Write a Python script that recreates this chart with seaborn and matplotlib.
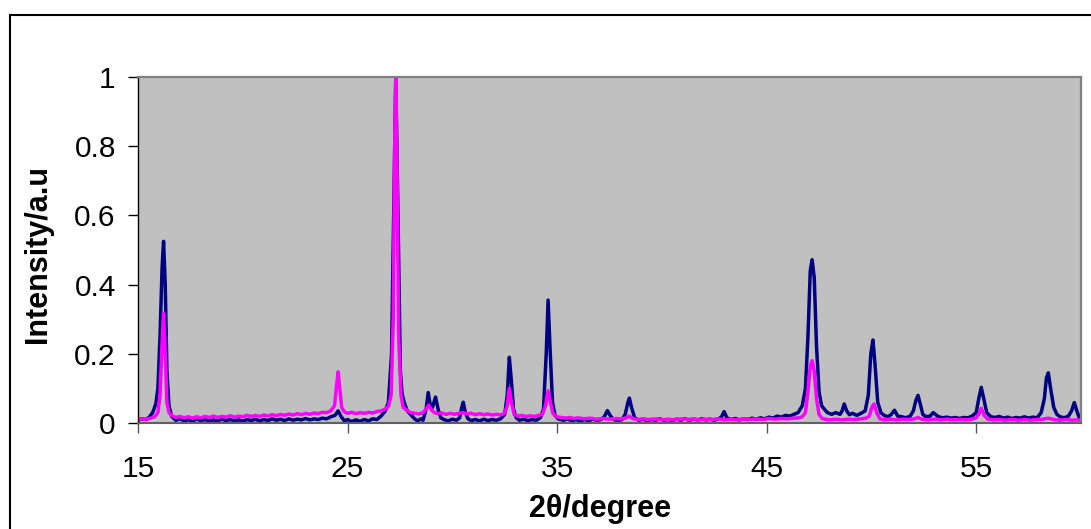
import matplotlib
matplotlib.use("Agg")
import matplotlib.pyplot as plt
from matplotlib.patches import Rectangle
import seaborn as sns

# XRD pattern, values (normalised intensity)

two_theta_navy = [
    15.0, 15.2, 15.4, 15.55, 15.7, 15.85, 15.95, 16.05, 16.15, 16.22, 16.3, 16.38, 16.48, 16.6, 16.8,
    17.0, 17.2, 17.4, 17.6, 17.8, 18.0, 18.2, 18.4, 18.6, 18.8, 19.0, 19.2, 19.4, 19.6, 19.8,
    20.0, 20.2, 20.4, 20.6, 20.8, 21.0, 21.2, 21.4, 21.6, 21.8, 22.0, 22.2, 22.4, 22.6, 22.8,
    23.0, 23.2, 23.4, 23.6, 23.8, 24.0, 24.2, 24.4, 24.55, 24.7, 24.85, 25.0, 25.2, 25.4, 25.6,
    25.8, 26.0, 26.2, 26.4, 26.6, 26.8, 26.95, 27.1, 27.2, 27.3, 27.42, 27.52, 27.6, 27.7, 27.85,
    28.0, 28.2, 28.35, 28.5, 28.6, 28.75, 28.85, 28.95, 29.05, 29.2, 29.32, 29.45, 29.6, 29.8,
    30.0, 30.2, 30.35, 30.45, 30.52, 30.62, 30.75, 30.9, 31.1, 31.3, 31.5, 31.7, 31.9, 32.1, 32.3,
    32.5, 32.62, 32.72, 32.82, 32.92, 33.05, 33.2, 33.4, 33.6, 33.8, 34.0, 34.2, 34.35, 34.48,
    34.57, 34.66, 34.78, 34.9, 35.05, 35.3, 35.5, 35.7, 35.9, 36.1, 36.3, 36.5, 36.7, 36.9, 37.1,
    37.25, 37.4, 37.55, 37.7, 37.9, 38.1, 38.25, 38.38, 38.45, 38.55, 38.7, 38.9, 39.1, 39.3, 39.5,
    39.7, 39.9, 40.1, 40.3, 40.5, 40.7, 40.9, 41.1, 41.3, 41.5, 41.7, 41.9, 42.1, 42.3, 42.5, 42.7,
    42.85, 42.97, 43.1, 43.3, 43.5, 43.7, 43.9, 44.1, 44.3, 44.5, 44.7, 44.9, 45.1, 45.3, 45.5,
    45.7, 45.9, 46.1, 46.3, 46.5, 46.7, 46.85, 46.97, 47.08, 47.17, 47.27, 47.38, 47.5, 47.62,
    47.75, 47.9, 48.1, 48.3, 48.5, 48.6, 48.7, 48.82, 48.95, 49.1, 49.3, 49.5, 49.7, 49.85, 49.97,
    50.07, 50.17, 50.3, 50.45, 50.6, 50.8, 50.95, 51.1, 51.25, 51.45, 51.65, 51.85, 52.0, 52.12,
    52.22, 52.33, 52.45, 52.6, 52.8, 52.95, 53.05, 53.2, 53.4, 53.6, 53.8, 54.0, 54.2, 54.4, 54.6,
    54.8, 55.0, 55.12, 55.24, 55.36, 55.5, 55.7, 55.9, 56.1, 56.3, 56.5, 56.7, 56.9, 57.1, 57.3,
    57.5, 57.7, 57.9, 58.1, 58.25, 58.35, 58.44, 58.55, 58.7, 58.85, 59.0, 59.2, 59.4, 59.55,
    59.68, 59.8, 59.92, 60.0,
]
intensity_navy = [
    0.008, 0.012, 0.010, 0.018, 0.030, 0.055, 0.100, 0.250, 0.450, 0.525, 0.400, 0.150, 0.050, 0.020, 0.008,
    0.012, 0.006, 0.010, 0.005, 0.011, 0.007, 0.010, 0.005, 0.009, 0.006, 0.011, 0.007, 0.010, 0.006, 0.009,
    0.005, 0.010, 0.007, 0.011, 0.006, 0.010, 0.007, 0.012, 0.008, 0.011, 0.007, 0.012, 0.008, 0.011, 0.009,
    0.013, 0.009, 0.012, 0.010, 0.014, 0.012, 0.018, 0.022, 0.035, 0.018, 0.006, 0.010, 0.004, 0.009, 0.005,
    0.010, 0.006, 0.012, 0.010, 0.020, 0.035, 0.060, 0.200, 0.600, 1.000, 0.550, 0.150, 0.085, 0.060, 0.035,
    0.025, 0.012, 0.006, 0.012, 0.008, 0.040, 0.088, 0.050, 0.045, 0.075, 0.040, 0.015, 0.010, 0.006,
    0.011, 0.008, 0.015, 0.045, 0.060, 0.030, 0.012, 0.007, 0.010, 0.006, 0.011, 0.007, 0.010, 0.008, 0.012,
    0.025, 0.080, 0.190, 0.120, 0.040, 0.015, 0.008, 0.011, 0.007, 0.010, 0.008, 0.015, 0.040, 0.200,
    0.355, 0.220, 0.060, 0.022, 0.012, 0.008, 0.011, 0.007, 0.010, 0.006, 0.010, 0.007, 0.011, 0.008, 0.010,
    0.018, 0.036, 0.020, 0.010, 0.007, 0.010, 0.025, 0.060, 0.072, 0.045, 0.015, 0.008, 0.011, 0.007, 0.010,
    0.008, 0.012, 0.008, 0.010, 0.007, 0.011, 0.008, 0.012, 0.008, 0.011, 0.009, 0.012, 0.009, 0.011, 0.008, 0.012,
    0.018, 0.033, 0.015, 0.010, 0.013, 0.009, 0.012, 0.010, 0.014, 0.011, 0.015, 0.012, 0.017, 0.014, 0.020,
    0.017, 0.022, 0.020, 0.025, 0.030, 0.050, 0.100, 0.250, 0.440, 0.472, 0.420, 0.220, 0.090, 0.050,
    0.040, 0.030, 0.025, 0.030, 0.025, 0.035, 0.055, 0.035, 0.024, 0.028, 0.022, 0.028, 0.035, 0.080, 0.200,
    0.240, 0.170, 0.060, 0.030, 0.022, 0.018, 0.025, 0.037, 0.020, 0.018, 0.015, 0.020, 0.035, 0.065,
    0.080, 0.055, 0.025, 0.018, 0.020, 0.030, 0.025, 0.018, 0.015, 0.017, 0.014, 0.016, 0.013, 0.016, 0.015,
    0.020, 0.030, 0.070, 0.103, 0.070, 0.030, 0.018, 0.016, 0.019, 0.014, 0.017, 0.013, 0.016, 0.014, 0.018,
    0.014, 0.017, 0.015, 0.030, 0.070, 0.130, 0.145, 0.100, 0.045, 0.025, 0.018, 0.015, 0.020, 0.035,
    0.059, 0.035, 0.015, 0.012,
]

two_theta_pink = [
    15.0, 15.2, 15.4, 15.6, 15.8, 15.95, 16.05, 16.15, 16.22, 16.3, 16.38, 16.48, 16.6, 16.8,
    17.0, 17.2, 17.4, 17.6, 17.8, 18.0, 18.2, 18.4, 18.6, 18.8, 19.0, 19.2, 19.4, 19.6, 19.8,
    20.0, 20.2, 20.4, 20.6, 20.8, 21.0, 21.2, 21.4, 21.6, 21.8, 22.0, 22.2, 22.4, 22.6, 22.8,
    23.0, 23.2, 23.4, 23.6, 23.8, 24.0, 24.2, 24.38, 24.48, 24.55, 24.63, 24.72, 24.85, 25.0,
    25.2, 25.4, 25.6, 25.8, 26.0, 26.2, 26.4, 26.6, 26.8, 26.95, 27.08, 27.18, 27.25, 27.3, 27.36,
    27.44, 27.55, 27.65, 27.8, 28.0, 28.2, 28.4, 28.6, 28.75, 28.88, 29.0, 29.15, 29.3, 29.5, 29.7,
    29.9, 30.1, 30.3, 30.5, 30.7, 30.9, 31.1, 31.3, 31.5, 31.7, 31.9, 32.1, 32.3, 32.5, 32.62,
    32.72, 32.82, 32.95, 33.1, 33.3, 33.5, 33.7, 33.9, 34.1, 34.3, 34.45, 34.57, 34.68, 34.8, 34.95,
    35.2, 35.4, 35.6, 35.8, 36.0, 36.3, 36.6, 36.9, 37.2, 37.5, 37.8, 38.1, 38.3, 38.45, 38.6,
    38.8, 39.1, 39.4, 39.7, 40.0, 40.3, 40.6, 40.9, 41.2, 41.5, 41.8, 42.1, 42.4, 42.7, 43.0,
    43.3, 43.6, 43.9, 44.2, 44.5, 44.8, 45.1, 45.4, 45.7, 46.0, 46.3, 46.55, 46.7, 46.85, 46.97,
    47.08, 47.17, 47.27, 47.38, 47.5, 47.65, 47.8, 48.0, 48.3, 48.6, 48.9, 49.2, 49.5, 49.75, 49.9,
    50.02, 50.12, 50.25, 50.4, 50.6, 50.9, 51.2, 51.5, 51.8, 52.05, 52.22, 52.4, 52.7, 53.0, 53.3,
    53.6, 53.9, 54.2, 54.5, 54.8, 55.0, 55.12, 55.24, 55.38, 55.55, 55.8, 56.1, 56.4, 56.7, 57.0,
    57.3, 57.6, 57.9, 58.2, 58.44, 58.7, 59.0, 59.3, 59.6, 59.8, 60.0,
]
intensity_pink = [
    0.010, 0.012, 0.011, 0.014, 0.018, 0.030, 0.080, 0.230, 0.317, 0.200, 0.060, 0.030, 0.022, 0.016,
    0.019, 0.015, 0.018, 0.014, 0.018, 0.015, 0.019, 0.016, 0.020, 0.016, 0.019, 0.017, 0.021, 0.017, 0.020,
    0.018, 0.022, 0.019, 0.022, 0.019, 0.023, 0.020, 0.024, 0.021, 0.025, 0.022, 0.026, 0.023, 0.027, 0.024,
    0.028, 0.025, 0.029, 0.027, 0.031, 0.030, 0.035, 0.050, 0.110, 0.148, 0.100, 0.045, 0.032, 0.028,
    0.031, 0.027, 0.030, 0.028, 0.031, 0.029, 0.033, 0.035, 0.040, 0.048, 0.080, 0.300, 0.800, 1.000, 0.750,
    0.250, 0.080, 0.045, 0.038, 0.030, 0.028, 0.026, 0.030, 0.040, 0.052, 0.038, 0.030, 0.027, 0.029, 0.025,
    0.028, 0.025, 0.028, 0.030, 0.026, 0.028, 0.024, 0.027, 0.024, 0.026, 0.023, 0.025, 0.023, 0.028, 0.050,
    0.100, 0.060, 0.025, 0.020, 0.022, 0.019, 0.021, 0.019, 0.022, 0.025, 0.050, 0.093, 0.060, 0.028, 0.018,
    0.016, 0.014, 0.016, 0.013, 0.015, 0.012, 0.014, 0.011, 0.013, 0.011, 0.013, 0.012, 0.015, 0.020, 0.013,
    0.010, 0.012, 0.010, 0.012, 0.009, 0.011, 0.009, 0.012, 0.010, 0.012, 0.009, 0.011, 0.010, 0.012, 0.009,
    0.011, 0.009, 0.012, 0.010, 0.012, 0.010, 0.013, 0.011, 0.013, 0.012, 0.014, 0.015, 0.018, 0.030, 0.090,
    0.165, 0.180, 0.150, 0.070, 0.025, 0.013, 0.011, 0.009, 0.011, 0.009, 0.011, 0.010, 0.012, 0.014, 0.020,
    0.045, 0.055, 0.030, 0.012, 0.009, 0.011, 0.009, 0.011, 0.010, 0.012, 0.016, 0.011, 0.009, 0.011, 0.009,
    0.011, 0.009, 0.010, 0.009, 0.011, 0.015, 0.025, 0.042, 0.022, 0.011, 0.009, 0.010, 0.008, 0.010, 0.008,
    0.010, 0.008, 0.010, 0.011, 0.014, 0.010, 0.008, 0.010, 0.008, 0.009, 0.008,
]

x_ticks = [15, 25, 35, 45, 55]
y_ticks = [0, 0.2, 0.4, 0.6, 0.8, 1]
y_tick_labels = ["0", "0.2", "0.4", "0.6", "0.8", "1"]

sns.set_theme(style="white", rc={"axes.facecolor": "#C0C0C0"})
plt.rcParams["font.family"] = ["Liberation Sans", "DejaVu Sans"]

W, H = 1091, 529
fig = plt.figure(figsize=(W / 100, H / 100), dpi=100)
ax = fig.add_axes([138 / W, 1 - 423 / H, 943 / W, 346 / H])

sns.lineplot(x=two_theta_navy, y=intensity_navy, color="#000080", lw=2.5, estimator=None, ax=ax)
sns.lineplot(x=two_theta_pink, y=intensity_pink, color="#FF00FF", lw=2.5, estimator=None, ax=ax)

ax.set_xlim(15, 60)
ax.set_ylim(0, 1)
ax.set_xticks(x_ticks)
ax.set_yticks(y_ticks)
ax.set_yticklabels(y_tick_labels)

for side in ["top", "right"]:
    ax.spines[side].set_color("#808080")
    ax.spines[side].set_linewidth(1.6)
ax.spines["left"].set_color("black")
ax.spines["left"].set_linewidth(1.0)
ax.spines["bottom"].set_color("#606060")
ax.spines["bottom"].set_linewidth(1.5)

ax.tick_params(axis="y", left=True, direction="out", length=7, width=1, color="black",
               pad=9, labelsize=21.5, labelcolor="black")
ax.tick_params(axis="x", bottom=True, direction="out", length=7, width=1, color="#555555",
               pad=16, labelsize=21.5, labelcolor="black")

ax.set_xlabel("2θ/degree", fontsize=22, fontweight="bold", color="black")
ax.xaxis.set_label_coords(0.49, -0.205)
ax.set_ylabel("Intensity/a.u", fontsize=22, fontweight="bold", color="black")
ax.yaxis.set_label_coords(-0.09, 0.488)

# outer chart frame, runs off the right and bottom edges like the screenshot
fig.add_artist(Rectangle((10 / W, -0.2), 1.5, 0.2 + 1 - 15 / H, transform=fig.transFigure,
                         fill=False, ec="black", lw=1.5, clip_on=False))

fig.savefig("out.png", dpi=100)
